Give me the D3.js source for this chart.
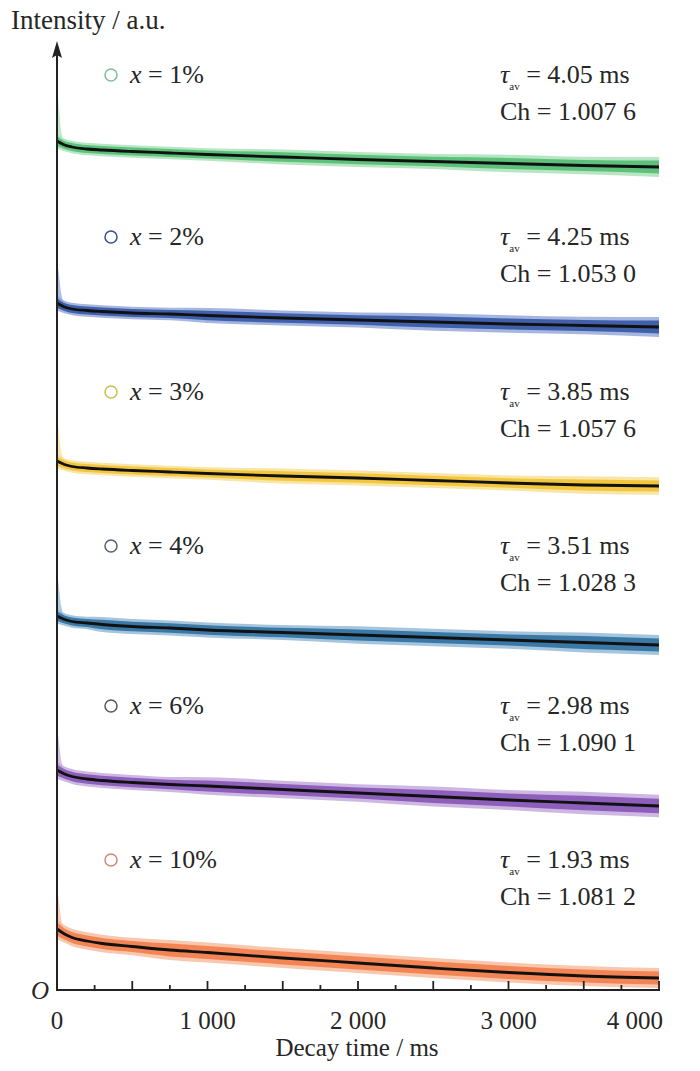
<!DOCTYPE html>
<html><head><meta charset="utf-8">
<script src="https://cdn.jsdelivr.net/npm/d3@7"></script>
<style>body{margin:0;background:#fff}text{font-family:"Liberation Serif","DejaVu Serif",serif;fill:#262626}</style>
</head><body>
<svg id="c" width="700" height="1071"></svg>
<script>
// ---- data ----
const times = [0, 50, 100, 200, 300, 500, 750, 1000, 1500, 2000, 2500, 3000, 3500, 4000];
const dopings = ["1%", "2%", "3%", "4%", "6%", "10%"];
const tauAv = ["4.05", "4.25", "3.85", "3.51", "2.98", "1.93"];
const chiSq = ["1.007 6", "1.053 0", "1.057 6", "1.028 3", "1.090 1", "1.081 2"];
const fit1 = [849, 845, 843, 841, 840, 838.5, 837, 835.5, 833, 830.5, 828.5, 826.5, 824.5, 823];
const fit2 = [687, 683, 681, 679.5, 678.5, 677, 676, 674.5, 672, 670, 668, 666, 664.5, 663];
const fit3 = [529, 525.5, 523.5, 522, 521, 519.5, 518, 516.5, 514, 512, 509.5, 507, 505, 504];
const fit4 = [374, 370.5, 368.5, 367, 365.5, 363.5, 362, 360, 357.5, 355, 352.5, 350, 347.5, 345];
const fit6 = [220, 216, 213.5, 211, 209.5, 207.5, 205.5, 204, 200.5, 197, 193.5, 190, 187, 184];
const fit10 = [61, 56, 52.5, 49, 46.5, 43.5, 40, 37.5, 32, 27, 22, 17.5, 14, 12];
const spread1 = [6, 5, 5, 5, 5, 5, 5, 5, 6, 6, 6, 7, 7, 8];
const spread2 = [6, 5, 5, 5, 5, 5, 5, 6, 6, 6, 7, 7, 7, 8];
const spread3 = [6, 5, 5, 5, 5, 5, 5, 5, 6, 6, 6, 6, 7, 7];
const spread4 = [6, 5, 5, 5, 6, 6, 6, 6, 6, 7, 7, 7, 8, 8];
const spread6 = [7, 6, 6, 6, 6, 6, 6, 7, 7, 7, 8, 8, 9, 9];
const spread10 = [8, 7, 7, 7, 7, 7, 8, 8, 8, 8, 8, 8, 8, 8];
const spikeTop = [905, 732, 575, 420, 265, 105];
const xTicks = [0, 1000, 2000, 3000, 4000];
const xTickLabels = ["0", "1 000", "2 000", "3 000", "4 000"];

const fits = [fit1, fit2, fit3, fit4, fit6, fit10];
const spreads = [spread1, spread2, spread3, spread4, spread6, spread10];
const bandColors = ["#52bd72", "#3556a6", "#f2c232", "#2f6fa0", "#8655b6", "#f27c4a"];
const lightColors = ["#a6e0b4", "#8fa4d8", "#f8df8e", "#8fb6d6", "#c2a6dc", "#f8b89a"];
const circleColors = ["#7fbf9a", "#3a4f8a", "#c9c24a", "#556070", "#555566", "#d08a74"];
const rowY = [75, 237, 392, 546, 706, 860];
const FS = 25, FR = 26;

const svg = d3.select("#c");
const x = d3.scaleLinear().domain([0, 4000]).range([57, 659]);
const y = d3.scaleLinear().domain([0, 945]).range([990, 45]);

// bands and fits
fits.forEach((f, i) => {
  const pts = times.map((t, j) => ({t, v: f[j], s: spreads[i][j]}));
  svg.append("path")
    .attr("d", d3.area().x(d => x(d.t)).y0(d => y(d.v - 3)).y1(d => y(d.top))([
      {t: 0, v: f[0], top: spikeTop[i]}, {t: 25, v: f[0], top: f[0] + 12}, {t: 40, v: f[1], top: f[1] + 5}]))
    .attr("fill", lightColors[i]).attr("opacity", 0.7);
  svg.append("path")
    .attr("d", d3.area().x(d => x(d.t)).y0(d => y(d.v - d.s * 1.25)).y1(d => y(d.v + d.s * 1.25)).curve(d3.curveMonotoneX)(pts))
    .attr("fill", lightColors[i]).attr("opacity", 0.8);
  svg.append("path")
    .attr("d", d3.area().x(d => x(d.t)).y0(d => y(d.v - d.s * 0.8)).y1(d => y(d.v + d.s * 0.8)).curve(d3.curveMonotoneX)(pts))
    .attr("fill", bandColors[i]).attr("opacity", 0.9);
  svg.append("path")
    .attr("d", d3.line().x(d => x(d.t)).y(d => y(d.v)).curve(d3.curveMonotoneX)(pts))
    .attr("fill", "none").attr("stroke", "#111").attr("stroke-width", 2.8);
});

// axes
const ax = svg.append("g").attr("transform", "translate(0,990)");
ax.append("line").attr("x1", 57).attr("x2", 660).attr("stroke", "#222").attr("stroke-width", 2);
const minor = d3.range(250, 4001, 250);
ax.selectAll(".tk").data(minor).join("line")
  .attr("x1", d => x(d)).attr("x2", d => x(d))
  .attr("y1", 0).attr("y2", d => d % 500 === 0 ? -9 : -5)
  .attr("stroke", "#222").attr("stroke-width", 1.8);
ax.selectAll(".tl").data(xTicks).join("text")
  .attr("x", (d, i) => i === xTicks.length - 1 ? x(d) + 4 : x(d)).attr("y", 39)
  .attr("text-anchor", (d, i) => i === xTicks.length - 1 ? "end" : "middle")
  .attr("font-size", FS).text((d, i) => xTickLabels[i]);
svg.append("text").attr("x", 357).attr("y", 1056).attr("text-anchor", "middle")
  .attr("font-size", FS).text("Decay time / ms");
svg.append("text").attr("x", 31).attr("y", 999).attr("font-size", FS).attr("font-style", "italic").text("O");

svg.append("line").attr("x1", 57).attr("x2", 57).attr("y1", 991).attr("y2", 52).attr("stroke", "#222").attr("stroke-width", 2);
svg.append("path").attr("d", "M57,41 L52,58 L57,55 L62,58 Z").attr("fill", "#222");
svg.append("text").attr("x", 11).attr("y", 29).attr("font-size", 27).text("Intensity / a.u.");

// legend and annotations
dopings.forEach((d, i) => {
  const cy = rowY[i];
  svg.append("circle").attr("cx", 111).attr("cy", cy).attr("r", 6)
    .attr("fill", "none").attr("stroke", circleColors[i]).attr("stroke-width", 1.5);
  const t = svg.append("text").attr("x", 130).attr("y", cy + 8).attr("font-size", FR);
  t.append("tspan").attr("font-style", "italic").text("x");
  t.append("tspan").text(" = " + d);
  const a = svg.append("text").attr("x", 500).attr("y", cy + 8).attr("font-size", FR);
  a.append("tspan").attr("font-style", "italic").text("τ");
  a.append("tspan").attr("font-size", 11).attr("dy", 7).text("av");
  a.append("tspan").attr("dy", -7).text(" = " + tauAv[i] + " ms");
  svg.append("text").attr("x", 500).attr("y", cy + 45).attr("font-size", FR).text("Ch = " + chiSq[i]);
});
</script>
</body></html>
